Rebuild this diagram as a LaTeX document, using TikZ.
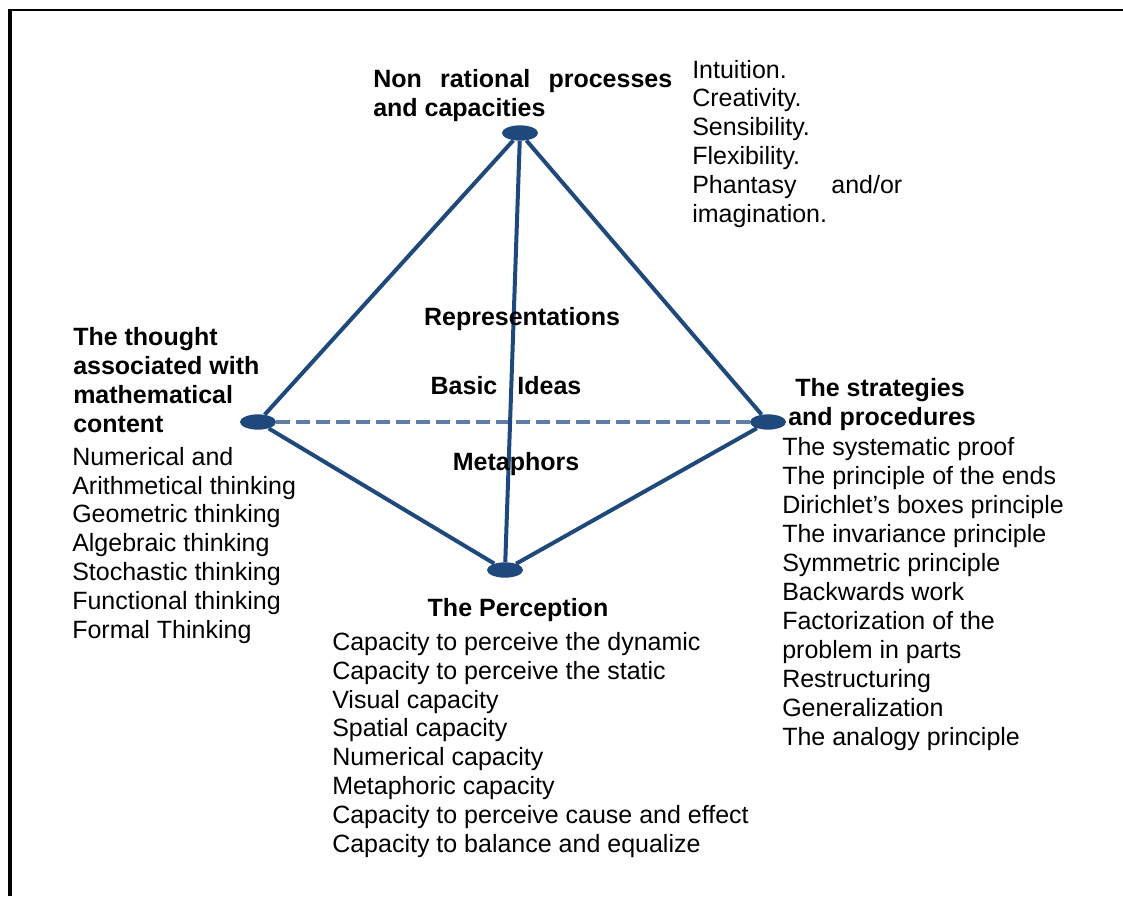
\documentclass[tikz,border=0pt]{standalone}
\usepackage{fontspec}
\setmainfont{Liberation Sans}
\usetikzlibrary{shapes.geometric}
\definecolor{edgeblue}{RGB}{31,73,125}
\definecolor{dashblue}{RGB}{95,125,165}
\begin{document}
\begin{tikzpicture}[x=0.75pt,y=-0.75pt,
  vertex/.style={ellipse,fill=edgeblue,draw=none,minimum width=27pt,minimum height=11.5pt,inner sep=0pt},
  edge/.style={draw=edgeblue,line width=3pt},
  hidden/.style={draw=dashblue,line width=2.4pt,dash pattern=on 10pt off 5pt},
  txt/.style={inner sep=0pt,font=\fontsize{18.75pt}{21.6pt}\selectfont,align=left},
  head/.style={txt,font=\fontsize{18.75pt}{21.6pt}\selectfont\bfseries}]
\useasboundingbox (0,0) rectangle (1123,896);
% frame
\draw[line width=3pt] (10,896) -- (10,9);
\draw[line width=1.8pt] (8,10) -- (1123,10);

% vertices of the tetrahedron
\node[vertex] (top) at (520,133) {};
\node[vertex] (left) at (258,422) {};
\node[vertex] (right) at (768,422) {};
\node[vertex] (bottom) at (505,570) {};

% edges
\draw[hidden] (left) -- (right);
\draw[edge] (top) -- (left);
\draw[edge] (top) -- (right);
\draw[edge] (top) -- (bottom);
\draw[edge] (left) -- (bottom);
\draw[edge] (right) -- (bottom);

% text blocks are placed by the baseline of their last line
% top vertex
\node[head,anchor=base west] (nonrat) at (373,116)
  {\makebox[224.25pt][s]{Non rational processes}\\and capacities};
\node[txt,anchor=base west] (intuition) at (692,222)
  {Intuition.\\Creativity.\\Sensibility.\\Flexibility.\\\makebox[157.5pt][s]{Phantasy and/or}\\imagination.};

% left vertex
\node[head,anchor=base west] (thought) at (73,432)
  {The thought\\associated with\\mathematical\\content};
\node[txt,anchor=base west] (thinking) at (72,638)
  {Numerical and\\Arithmetical thinking\\Geometric thinking\\Algebraic thinking\\Stochastic thinking\\Functional thinking\\Formal Thinking};

% inside the body
\node[head,anchor=base] (repr) at (522,325) {Representations};
\node[head,anchor=base] (ideas) at (506,394) {Basic\hspace{15pt}Ideas};
\node[head,anchor=base] (meta) at (516,470) {Metaphors};

% right vertex
\node[head,anchor=base west] (strat) at (788,425)
  {\hspace*{5.25pt}The strategies\\and procedures};
\node[txt,anchor=base west,font=\fontsize{18.75pt}{21.75pt}\selectfont] (principles) at (782,745)
  {The systematic proof\\The principle of the ends\\Dirichlet's boxes principle\\The invariance principle\\Symmetric principle\\Backwards work\\Factorization of the\\problem in parts\\Restructuring\\Generalization\\The analogy principle};

% bottom vertex
\node[head,anchor=base] (perc) at (518,616) {The Perception};
\node[txt,anchor=base west] (capacities) at (332,852)
  {Capacity to perceive the dynamic\\Capacity to perceive the static\\Visual capacity\\Spatial capacity\\Numerical capacity\\Metaphoric capacity\\Capacity to perceive cause and effect\\Capacity to balance and equalize};
\end{tikzpicture}
\end{document}
